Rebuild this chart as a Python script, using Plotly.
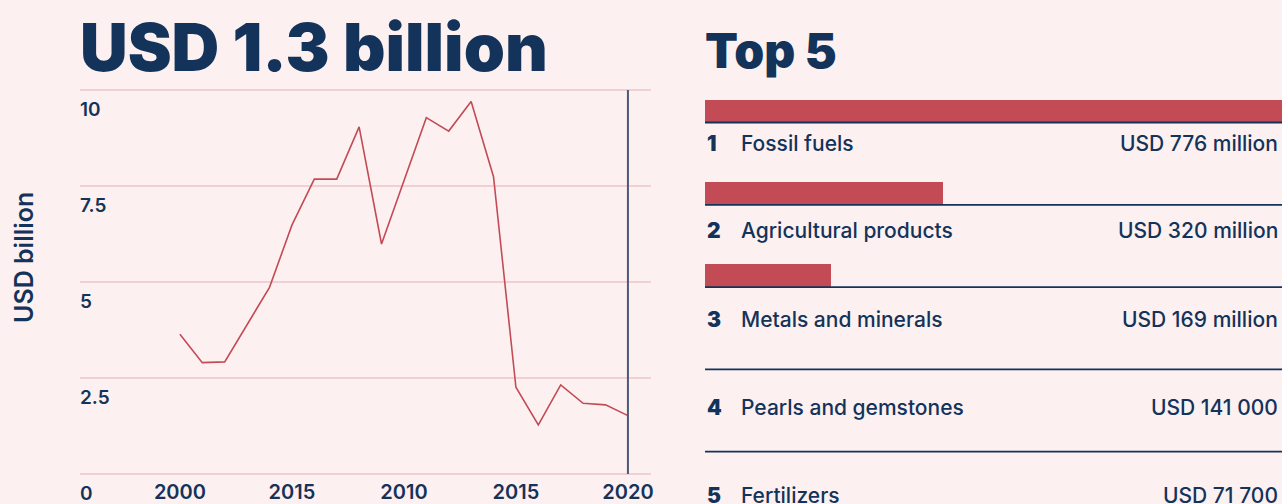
import plotly.graph_objects as go

# ---------------- data ----------------
years = list(range(2000, 2021))
exports_busd = [3.64, 2.90, 2.92, 3.90, 4.86, 6.48, 7.68, 7.68, 9.04, 5.99, 7.63,
                9.28, 8.93, 9.70, 7.74, 2.26, 1.28, 2.32, 1.84, 1.80, 1.52]
xtick_vals = [2000, 2005, 2010, 2015, 2020]
xtick_text = ["2000", "2015", "2010", "2015", "2020"]
ytick_vals = [0, 2.5, 5, 7.5, 10]
ytick_text = ["0", "2.5", "5", "7.5", "10"]
marker_year = 2020

ranks = ["1", "2", "3", "4", "5"]
products = ["Fossil fuels", "Agricultural products", "Metals and minerals",
            "Pearls and gemstones", "Fertilizers"]
values_musd = [776, 320, 169, 0.141, 0.0717]
value_labels = ["USD 776 million", "USD 320 million", "USD 169 million",
                "USD 141 000", "USD 71 700"]

headline = "USD 1.3 billion"
top_title = "Top 5"
y_title = "USD billion"

# ---------------- style ----------------
W, H = 1282, 504
BG = "#fdf0f0"
NAVY = "#13335a"
RED = "#c24b56"
GRID = "#efd0d4"
VLINE = "#4b5a78"
FONT = "Inter"

def px(x):
    return x / W

def py(y):
    return 1 - y / H

# left plot: y=0 at 474px, y=10 at 90px; pad range a little so edge gridlines show
y_pad = 0.1
y_px_per_unit = (474 - 90) / 10
y_dom = [py(474 + y_pad * y_px_per_unit), py(90 - y_pad * y_px_per_unit)]
y_rng = [ytick_vals[0] - y_pad, ytick_vals[-1] + y_pad]

# right panel row geometry (pixels)
row0_px = 122.5
row_gap_px = 82.3
bar_h_px = 23
rows = list(range(len(products)))
y2_range = [(H - row0_px) / row_gap_px, -row0_px / row_gap_px]
bar_w = bar_h_px / row_gap_px

fig = go.Figure()

fig.add_trace(go.Scatter(
    x=years, y=exports_busd, mode="lines",
    line=dict(color=RED, width=1.6),
    xaxis="x", yaxis="y", showlegend=False, hoverinfo="skip"))

fig.add_trace(go.Bar(
    x=values_musd, y=[r - bar_w / 2 for r in rows], orientation="h",
    width=bar_w, marker=dict(color=RED, line=dict(width=0)),
    xaxis="x2", yaxis="y2", showlegend=False, hoverinfo="skip"))

shapes = [dict(type="line", xref="x", yref="y", x0=marker_year, x1=marker_year,
               y0=ytick_vals[0], y1=ytick_vals[-1], line=dict(color=VLINE, width=2))]
for r in rows:
    shapes.append(dict(type="line", xref="x2 domain", yref="y2", x0=0, x1=1,
                       y0=r, y1=r, line=dict(color=NAVY, width=1.8)))

annotations = [
    dict(text=headline, x=px(78), y=py(47), xref="paper", yref="paper",
         xanchor="left", yanchor="middle", showarrow=False,
         font=dict(family=FONT, size=66, color=NAVY, weight=900)),
    dict(text=top_title, x=px(703), y=py(51), xref="paper", yref="paper",
         xanchor="left", yanchor="middle", showarrow=False,
         font=dict(family=FONT, size=48, color=NAVY, weight=900)),
    dict(text=y_title, x=px(24), y=py(258), xref="paper", yref="paper",
         xanchor="center", yanchor="middle", showarrow=False, textangle=-90,
         font=dict(family=FONT, size=25, color=NAVY, weight=600)),
]
text_y0 = 143
text_gap = 88
for i, (rk, name, val) in enumerate(zip(ranks, products, value_labels)):
    ty = py(text_y0 + text_gap * i)
    annotations.append(dict(text=rk, x=px(705), y=ty, xref="paper", yref="paper",
                            xanchor="left", yanchor="middle", showarrow=False,
                            font=dict(family=FONT, size=21, color=NAVY, weight=900)))
    annotations.append(dict(text=name, x=px(739), y=ty, xref="paper", yref="paper",
                            xanchor="left", yanchor="middle", showarrow=False,
                            font=dict(family=FONT, size=21, color=NAVY, weight=500)))
    annotations.append(dict(text=val, x=px(1280), y=ty, xref="paper", yref="paper",
                            xanchor="right", yanchor="middle", showarrow=False,
                            font=dict(family=FONT, size=21, color=NAVY, weight=500)))

fig.update_layout(
    width=W, height=H,
    margin=dict(l=0, r=0, t=0, b=0, autoexpand=False),
    paper_bgcolor=BG, plot_bgcolor=BG,
    shapes=shapes, annotations=annotations,
    bargap=0,
    xaxis=dict(domain=[px(80), px(651)], range=[1995.54, 2021.03],
               showgrid=False, zeroline=False, showline=False,
               tickmode="array", tickvals=xtick_vals, ticktext=xtick_text,
               tickfont=dict(family=FONT, size=20, color=NAVY, weight=600),
               ticks="", ticklabelstandoff=0, automargin=False, fixedrange=True),
    yaxis=dict(domain=y_dom, range=y_rng,
               showgrid=True, gridcolor=GRID, gridwidth=1.5,
               zeroline=False, showline=False,
               tickmode="array", tickvals=ytick_vals, ticktext=ytick_text,
               tickfont=dict(family=FONT, size=19, color=NAVY, weight=600),
               ticks="", ticklabelposition="inside", ticklabelshift=19,
               ticklabelstandoff=-3, ticklabeloverflow="allow",
               automargin=False, fixedrange=True),
    xaxis2=dict(domain=[px(705), 1.0], range=[0, values_musd[0]],
                visible=False, fixedrange=True),
    yaxis2=dict(domain=[0, 1], range=y2_range, visible=False, fixedrange=True),
)

fig.write_html("out.html", config={"displayModeBar": False, "staticPlot": True})
